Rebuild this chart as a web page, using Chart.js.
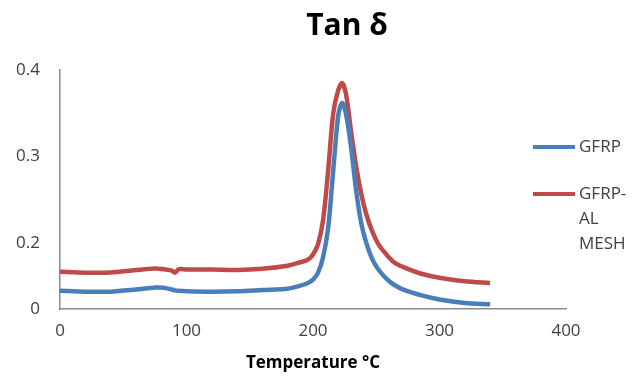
<!DOCTYPE html>
<html>
<head>
<meta charset="utf-8">
<script src="https://cdn.jsdelivr.net/npm/chart.js@4"></script>
<style>
  body { margin: 0; background: #fff; }
  #wrap { width: 634px; height: 377px; }
</style>
</head>
<body>
<div id="wrap"><canvas id="tanChart" width="634" height="377"></canvas></div>
<script>
// temperature (°C) sample points, shared by both curves
var temps = [0, 20, 40, 60, 75, 82, 88, 91, 94, 100, 120, 140, 160, 180, 190, 196, 200, 204, 208, 212,
    216, 220, 223, 226, 230, 234, 238, 242, 247, 252, 258, 264, 272, 285, 300, 320, 340];

var gfrp = [0.145, 0.144, 0.144, 0.1465, 0.1488, 0.1485, 0.1465, 0.1455, 0.145, 0.1445, 0.144, 0.1445,
    0.146, 0.1475, 0.151, 0.154, 0.158, 0.166, 0.184, 0.218, 0.284, 0.348, 0.362, 0.350, 0.312, 0.262,
    0.224, 0.201, 0.181, 0.169, 0.159, 0.152, 0.146, 0.140, 0.135, 0.131, 0.1295];

var gfrpMesh = [0.167, 0.166, 0.1662, 0.169, 0.1707, 0.170, 0.1685, 0.166, 0.170, 0.1697, 0.1695, 0.169,
    0.1705, 0.174, 0.178, 0.181, 0.187, 0.199, 0.227, 0.284, 0.350, 0.377, 0.385, 0.373, 0.330, 0.290,
    0.258, 0.234, 0.213, 0.198, 0.187, 0.178, 0.172, 0.165, 0.160, 0.156, 0.154];

var seriesNames = ['GFRP', 'GFRP-AL MESH'];
var seriesColors = ['#4a7ebb', '#be4b48'];

// y ticks and what is printed beside them
var yTicks = [0.124, 0.2, 0.3, 0.4];
var yTickLabels = ['0', '0.2', '0.3', '0.4'];
var xTicks = [0, 100, 200, 300, 400];

function toPoints(vals) {
    return temps.map(function(t, i) { return { x: t, y: vals[i] } })
}

// title is placed by hand a little right of centre
var titlePlugin = {
    id: 'tanTitle',
    afterDraw: function(chart) {
        var ctx = chart.ctx
        ctx.save()
        ctx.font = 'bold 30px "Open Sans"'
        ctx.fillStyle = '#000'
        ctx.textAlign = 'center'
        ctx.textBaseline = 'middle'
        ctx.fillText('Tan δ', 347, 26)
        ctx.restore()
    }
}

// legend on the right with wrapping labels
var sideLegend = {
    id: 'sideLegend',
    afterDraw: function(chart) {
        var ctx = chart.ctx
        var x0 = 533, lineLen = 42, maxW = 52
        var ys = [147, 194]
        ctx.save()
        ctx.font = '17px "Open Sans"'
        ctx.textBaseline = 'middle'
        chart.data.datasets.forEach(function(ds, i) {
            ctx.strokeStyle = ds.borderColor
            ctx.lineWidth = 4
            ctx.beginPath()
            ctx.moveTo(x0, ys[i])
            ctx.lineTo(x0 + lineLen, ys[i])
            ctx.stroke()
            // break after hyphens and spaces when a line gets too wide
            var parts = ds.label.match(/[^\s-]+-?/g)
            var lines = [], cur = ''
            parts.forEach(function(p) {
                var sep = (cur && !cur.endsWith('-')) ? ' ' : ''
                var test = cur + sep + p
                if (cur && ctx.measureText(test).width > maxW) {
                    lines.push(cur)
                    cur = p
                } else {
                    cur = test
                }
            })
            lines.push(cur)
            ctx.fillStyle = '#404040'
            lines.forEach(function(l, k) {
                ctx.fillText(l, x0 + lineLen + 4, ys[i] + k * 25)
            })
        })
        ctx.restore()
    }
}

var ctx = document.getElementById('tanChart').getContext('2d')
new Chart(ctx, {
    type: 'line',
    data: {
        datasets: seriesNames.map(function(name, i) {
            return {
                label: name,
                data: toPoints(i === 0 ? gfrp : gfrpMesh),
                borderColor: seriesColors[i],
                backgroundColor: seriesColors[i],
                borderWidth: 4.5,
                pointRadius: 0,
                tension: 0.3,
                fill: false
            }
        })
    },
    options: {
        responsive: false,
        animation: false,
        layout: { padding: { top: 70, right: 68, bottom: 0, left: 0 } },
        plugins: {
            legend: { display: false },
            title: { display: false },
            tooltip: { enabled: false }
        },
        scales: {
            x: {
                type: 'linear',
                min: 0,
                max: 400,
                grid: { display: false, drawTicks: false },
                border: { display: true, color: '#8c8c8c', width: 1.5 },
                afterBuildTicks: function(axis) {
                    axis.ticks = xTicks.map(function(v) { return { value: v } })
                },
                afterFit: function(axis) { axis.height = 68 },
                ticks: {
                    padding: 12,
                    color: '#404040',
                    font: { family: 'Open Sans', size: 17 },
                    maxRotation: 0
                },
                title: {
                    display: true,
                    text: 'Temperature °C',
                    color: '#000',
                    font: { family: 'Open Sans', size: 17, weight: 'bold' },
                    padding: { top: 0, bottom: 4 }
                }
            },
            y: {
                min: yTicks[0],
                max: 0.4,
                grid: { display: false, drawTicks: false },
                border: { display: true, color: '#8c8c8c', width: 1.5 },
                afterBuildTicks: function(axis) {
                    axis.ticks = yTicks.map(function(v) { return { value: v } })
                },
                afterFit: function(axis) { axis.width = 60 },
                ticks: {
                    padding: 20,
                    color: '#404040',
                    font: { family: 'Open Sans', size: 17 },
                    callback: function(value) {
                        var idx = yTicks.indexOf(value)
                        return idx >= 0 ? yTickLabels[idx] : ''
                    }
                }
            }
        }
    },
    plugins: [titlePlugin, sideLegend]
})
</script>
</body>
</html>
